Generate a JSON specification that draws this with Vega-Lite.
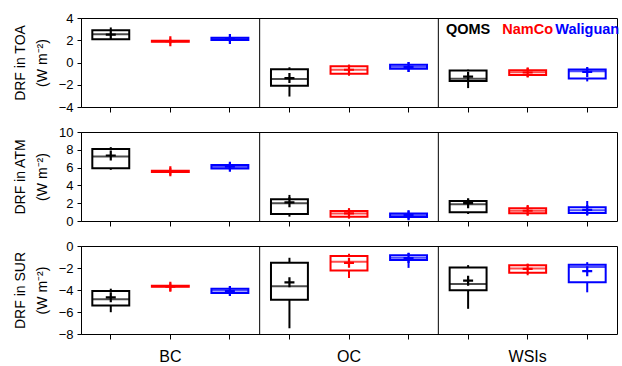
{
  "$schema": "https://vega.github.io/schema/vega-lite/v6.json",
  "padding": {"left": 12, "top": 11, "right": 0, "bottom": 0},
  "spacing": 10,
  "config": {
    "font": "Liberation Sans",
    "view": {"stroke": "black", "strokeWidth": 1},
    "axis": {"grid": false, "domainColor": "black", "tickColor": "black", "labelColor": "black", "titleColor": "black", "labelFont": "Liberation Sans", "titleFont": "Liberation Sans"},
    "axisY": {"tickSize": 4, "labelFontSize": 13, "titleFontSize": 14, "titleFontWeight": "normal", "titleLineHeight": 22, "labelPadding": 4, "titlePadding": 9, "labelOverlap": false},
    "axisX": {"tickSize": 5, "labelFontSize": 16, "labelPadding": 9}
  },
  "datasets": {
    "box": [
      {"panel": "TOA", "cat": "BC-QOMS", "site": "QOMS", "min": 2.1, "q1": 2.1, "median": 2.55, "q3": 2.9, "max": 3.15, "mean": 2.5},
      {"panel": "TOA", "cat": "BC-NamCo", "site": "NamCo", "min": 1.7, "q1": 1.87, "median": 1.92, "q3": 1.96, "max": 2.15, "mean": 1.92},
      {"panel": "TOA", "cat": "BC-Waliguan", "site": "Waliguan", "min": 1.85, "q1": 2.03, "median": 2.12, "q3": 2.22, "max": 2.4, "mean": 2.12},
      {"panel": "TOA", "cat": "OC-QOMS", "site": "QOMS", "min": -3.06, "q1": -2.09, "median": -1.48, "q3": -0.6, "max": -0.43, "mean": -1.4},
      {"panel": "TOA", "cat": "OC-NamCo", "site": "NamCo", "min": -1.18, "q1": -1.0, "median": -0.66, "q3": -0.33, "max": -0.2, "mean": -0.65},
      {"panel": "TOA", "cat": "OC-Waliguan", "site": "Waliguan", "min": -0.85, "q1": -0.57, "median": -0.39, "q3": -0.21, "max": 0.03, "mean": -0.4},
      {"panel": "TOA", "cat": "WSIs-QOMS", "site": "QOMS", "min": -2.3, "q1": -1.67, "median": -1.45, "q3": -0.73, "max": -0.64, "mean": -1.27},
      {"panel": "TOA", "cat": "WSIs-NamCo", "site": "NamCo", "min": -1.3, "q1": -1.12, "median": -0.88, "q3": -0.7, "max": -0.48, "mean": -0.9},
      {"panel": "TOA", "cat": "WSIs-Waliguan", "site": "Waliguan", "min": -1.7, "q1": -1.43, "median": -0.79, "q3": -0.64, "max": -0.48, "mean": -0.85},
      {"panel": "ATM", "cat": "BC-QOMS", "site": "QOMS", "min": 5.75, "q1": 5.94, "median": 7.25, "q3": 8.1, "max": 8.3, "mean": 7.36},
      {"panel": "ATM", "cat": "BC-NamCo", "site": "NamCo", "min": 5.2, "q1": 5.5, "median": 5.58, "q3": 5.64, "max": 5.95, "mean": 5.6},
      {"panel": "ATM", "cat": "BC-Waliguan", "site": "Waliguan", "min": 5.7, "q1": 5.9, "median": 6.1, "q3": 6.3, "max": 6.5, "mean": 6.1},
      {"panel": "ATM", "cat": "OC-QOMS", "site": "QOMS", "min": 0.49, "q1": 0.79, "median": 2.0, "q3": 2.44, "max": 2.93, "mean": 2.1},
      {"panel": "ATM", "cat": "OC-NamCo", "site": "NamCo", "min": 0.3, "q1": 0.49, "median": 0.83, "q3": 1.13, "max": 1.43, "mean": 0.85},
      {"panel": "ATM", "cat": "OC-Waliguan", "site": "Waliguan", "min": 0.19, "q1": 0.45, "median": 0.65, "q3": 0.83, "max": 1.16, "mean": 0.65},
      {"panel": "ATM", "cat": "WSIs-QOMS", "site": "QOMS", "min": 0.79, "q1": 0.98, "median": 1.88, "q3": 2.25, "max": 2.44, "mean": 2.0},
      {"panel": "ATM", "cat": "WSIs-NamCo", "site": "NamCo", "min": 0.68, "q1": 0.87, "median": 1.15, "q3": 1.43, "max": 1.8, "mean": 1.15},
      {"panel": "ATM", "cat": "WSIs-Waliguan", "site": "Waliguan", "min": 0.6, "q1": 0.9, "median": 1.2, "q3": 1.54, "max": 2.25, "mean": 1.25},
      {"panel": "SUR", "cat": "BC-QOMS", "site": "QOMS", "min": -6.02, "q1": -5.41, "median": -4.83, "q3": -4.09, "max": -3.88, "mean": -4.67},
      {"panel": "SUR", "cat": "BC-NamCo", "site": "NamCo", "min": -4.1, "q1": -3.71, "median": -3.66, "q3": -3.62, "max": -3.4, "mean": -3.7},
      {"panel": "SUR", "cat": "BC-Waliguan", "site": "Waliguan", "min": -4.49, "q1": -4.28, "median": -4.05, "q3": -3.88, "max": -3.66, "mean": -4.1},
      {"panel": "SUR", "cat": "OC-QOMS", "site": "QOMS", "min": -7.48, "q1": -4.89, "median": -3.66, "q3": -1.53, "max": -1.07, "mean": -3.3},
      {"panel": "SUR", "cat": "OC-NamCo", "site": "NamCo", "min": -2.9, "q1": -2.23, "median": -1.44, "q3": -0.92, "max": -0.7, "mean": -1.53},
      {"panel": "SUR", "cat": "OC-Waliguan", "site": "Waliguan", "min": -1.99, "q1": -1.28, "median": -1.07, "q3": -0.83, "max": -0.61, "mean": -1.1},
      {"panel": "SUR", "cat": "WSIs-QOMS", "site": "QOMS", "min": -5.71, "q1": -4.03, "median": -3.45, "q3": -1.96, "max": -1.74, "mean": -3.15},
      {"panel": "SUR", "cat": "WSIs-NamCo", "site": "NamCo", "min": -2.66, "q1": -2.44, "median": -2.05, "q3": -1.74, "max": -1.6, "mean": -2.08},
      {"panel": "SUR", "cat": "WSIs-Waliguan", "site": "Waliguan", "min": -4.21, "q1": -3.3, "median": -1.9, "q3": -1.71, "max": -1.47, "mean": -2.29}
    ],
    "div": [{"cat": "OC-QOMS"}, {"cat": "WSIs-QOMS"}],
    "leg": [
      {"cat": "WSIs-QOMS", "site": "QOMS", "label": "QOMS", "y": 2.9},
      {"cat": "WSIs-NamCo", "site": "NamCo", "label": "NamCo", "y": 2.9},
      {"cat": "WSIs-Waliguan", "site": "Waliguan", "label": "Waliguan", "y": 2.9}
    ]
  },
  "vconcat": [
    {
      "width": 536, "height": 89,
      "layer": [
        {"data": {"name": "div"}, "mark": {"type": "rule", "color": "black", "strokeWidth": 1},
         "encoding": {"x": {"field": "cat", "type": "nominal", "bandPosition": 0, "scale": {"domain": ["BC-QOMS","BC-NamCo","BC-Waliguan","OC-QOMS","OC-NamCo","OC-Waliguan","WSIs-QOMS","WSIs-NamCo","WSIs-Waliguan"], "paddingInner": 0, "paddingOuter": 0}, "axis": {"title": null, "labels": false, "domain": false}}}},
        {"data": {"name": "box"}, "transform": [{"filter": "datum.panel=='TOA'"}], "mark": {"type": "rule", "strokeWidth": 2},
         "encoding": {"x": {"field": "cat", "type": "nominal"}, "y": {"field": "min", "type": "quantitative", "scale": {"domain": [-4, 4], "nice": false, "zero": false}, "axis": {"values": [-4,-2,0,2,4], "tickCount": 5, "labelOverlap": false, "title": ["DRF in TOA", "(W m⁻²)"]}}, "y2": {"field": "max"},
          "color": {"field": "site", "type": "nominal", "scale": {"domain": ["QOMS","NamCo","Waliguan"], "range": ["black","red","blue"]}, "legend": null}}},
        {"data": {"name": "box"}, "transform": [{"filter": "datum.panel=='TOA'"}], "mark": {"type": "bar", "fill": "white", "strokeWidth": 2, "width": {"band": 0.62}},
         "encoding": {"x": {"field": "cat", "type": "nominal"}, "y": {"field": "q1", "type": "quantitative", "axis": {"values": [-4,-2,0,2,4], "tickCount": 5, "labelOverlap": false, "title": ["DRF in TOA", "(W m⁻²)"]}}, "y2": {"field": "q3"},
          "stroke": {"field": "site", "type": "nominal", "scale": {"domain": ["QOMS","NamCo","Waliguan"], "range": ["black","red","blue"]}, "legend": null}}},
        {"data": {"name": "box"}, "transform": [{"filter": "datum.panel=='TOA'"}], "mark": {"type": "tick", "thickness": 2, "size": 37},
         "encoding": {"x": {"field": "cat", "type": "nominal"}, "y": {"field": "median", "type": "quantitative", "axis": {"values": [-4,-2,0,2,4], "tickCount": 5, "labelOverlap": false, "title": ["DRF in TOA", "(W m⁻²)"]}}, "color": {"field": "site", "type": "nominal", "legend": null}}},
        {"data": {"name": "box"}, "transform": [{"filter": "datum.panel=='TOA'"}], "mark": {"type": "point", "shape": "M-1,0H1M0,-1V1", "filled": false, "strokeWidth": 2.2, "size": 100, "opacity": 1},
         "encoding": {"x": {"field": "cat", "type": "nominal"}, "y": {"field": "mean", "type": "quantitative", "axis": {"values": [-4,-2,0,2,4], "tickCount": 5, "labelOverlap": false, "title": ["DRF in TOA", "(W m⁻²)"]}}, "color": {"field": "site", "type": "nominal", "legend": null}}},
        {"data": {"name": "leg"}, "mark": {"type": "text", "fontWeight": "bold", "fontSize": 14.5, "align": "center", "baseline": "middle"},
         "encoding": {"x": {"field": "cat", "type": "nominal"}, "y": {"field": "y", "type": "quantitative", "axis": {"values": [-4,-2,0,2,4], "tickCount": 5, "labelOverlap": false, "title": ["DRF in TOA", "(W m⁻²)"]}}, "text": {"field": "label"}, "color": {"field": "site", "type": "nominal", "legend": null}}}
      ]
    },
    {
      "width": 536, "height": 89,
      "layer": [
        {"data": {"name": "div"}, "mark": {"type": "rule", "color": "black", "strokeWidth": 1},
         "encoding": {"x": {"field": "cat", "type": "nominal", "bandPosition": 0, "scale": {"domain": ["BC-QOMS","BC-NamCo","BC-Waliguan","OC-QOMS","OC-NamCo","OC-Waliguan","WSIs-QOMS","WSIs-NamCo","WSIs-Waliguan"], "paddingInner": 0, "paddingOuter": 0}, "axis": {"title": null, "labels": false, "domain": false}}}},
        {"data": {"name": "box"}, "transform": [{"filter": "datum.panel=='ATM'"}], "mark": {"type": "rule", "strokeWidth": 2},
         "encoding": {"x": {"field": "cat", "type": "nominal"}, "y": {"field": "min", "type": "quantitative", "scale": {"domain": [0, 10], "nice": false, "zero": false}, "axis": {"values": [0,2,4,6,8,10], "tickCount": 6, "labelOverlap": false, "title": ["DRF in ATM", "(W m⁻²)"]}}, "y2": {"field": "max"},
          "color": {"field": "site", "type": "nominal", "scale": {"domain": ["QOMS","NamCo","Waliguan"], "range": ["black","red","blue"]}, "legend": null}}},
        {"data": {"name": "box"}, "transform": [{"filter": "datum.panel=='ATM'"}], "mark": {"type": "bar", "fill": "white", "strokeWidth": 2, "width": {"band": 0.62}},
         "encoding": {"x": {"field": "cat", "type": "nominal"}, "y": {"field": "q1", "type": "quantitative", "axis": {"values": [0,2,4,6,8,10], "tickCount": 6, "labelOverlap": false, "title": ["DRF in ATM", "(W m⁻²)"]}}, "y2": {"field": "q3"},
          "stroke": {"field": "site", "type": "nominal", "scale": {"domain": ["QOMS","NamCo","Waliguan"], "range": ["black","red","blue"]}, "legend": null}}},
        {"data": {"name": "box"}, "transform": [{"filter": "datum.panel=='ATM'"}], "mark": {"type": "tick", "thickness": 2, "size": 37},
         "encoding": {"x": {"field": "cat", "type": "nominal"}, "y": {"field": "median", "type": "quantitative", "axis": {"values": [0,2,4,6,8,10], "tickCount": 6, "labelOverlap": false, "title": ["DRF in ATM", "(W m⁻²)"]}}, "color": {"field": "site", "type": "nominal", "legend": null}}},
        {"data": {"name": "box"}, "transform": [{"filter": "datum.panel=='ATM'"}], "mark": {"type": "point", "shape": "M-1,0H1M0,-1V1", "filled": false, "strokeWidth": 2.2, "size": 100, "opacity": 1},
         "encoding": {"x": {"field": "cat", "type": "nominal"}, "y": {"field": "mean", "type": "quantitative", "axis": {"values": [0,2,4,6,8,10], "tickCount": 6, "labelOverlap": false, "title": ["DRF in ATM", "(W m⁻²)"]}}, "color": {"field": "site", "type": "nominal", "legend": null}}}
      ]
    },
    {
      "width": 536, "height": 88,
      "layer": [
        {"data": {"name": "div"}, "mark": {"type": "rule", "color": "black", "strokeWidth": 1},
         "encoding": {"x": {"field": "cat", "type": "nominal", "bandPosition": 0, "scale": {"domain": ["BC-QOMS","BC-NamCo","BC-Waliguan","OC-QOMS","OC-NamCo","OC-Waliguan","WSIs-QOMS","WSIs-NamCo","WSIs-Waliguan"], "paddingInner": 0, "paddingOuter": 0}, "axis": {"title": null, "domain": false, "labelAngle": 0, "labelExpr": "datum.value=='BC-NamCo'?'BC':datum.value=='OC-NamCo'?'OC':datum.value=='WSIs-NamCo'?'WSIs':''"}}}},
        {"data": {"name": "box"}, "transform": [{"filter": "datum.panel=='SUR'"}], "mark": {"type": "rule", "strokeWidth": 2},
         "encoding": {"x": {"field": "cat", "type": "nominal"}, "y": {"field": "min", "type": "quantitative", "scale": {"domain": [-8, 0], "nice": false, "zero": false}, "axis": {"values": [-8,-6,-4,-2,0], "tickCount": 5, "labelOverlap": false, "title": ["DRF in SUR", "(W m⁻²)"]}}, "y2": {"field": "max"},
          "color": {"field": "site", "type": "nominal", "scale": {"domain": ["QOMS","NamCo","Waliguan"], "range": ["black","red","blue"]}, "legend": null}}},
        {"data": {"name": "box"}, "transform": [{"filter": "datum.panel=='SUR'"}], "mark": {"type": "bar", "fill": "white", "strokeWidth": 2, "width": {"band": 0.62}},
         "encoding": {"x": {"field": "cat", "type": "nominal"}, "y": {"field": "q1", "type": "quantitative", "axis": {"values": [-8,-6,-4,-2,0], "tickCount": 5, "labelOverlap": false, "title": ["DRF in SUR", "(W m⁻²)"]}}, "y2": {"field": "q3"},
          "stroke": {"field": "site", "type": "nominal", "scale": {"domain": ["QOMS","NamCo","Waliguan"], "range": ["black","red","blue"]}, "legend": null}}},
        {"data": {"name": "box"}, "transform": [{"filter": "datum.panel=='SUR'"}], "mark": {"type": "tick", "thickness": 2, "size": 37},
         "encoding": {"x": {"field": "cat", "type": "nominal"}, "y": {"field": "median", "type": "quantitative", "axis": {"values": [-8,-6,-4,-2,0], "tickCount": 5, "labelOverlap": false, "title": ["DRF in SUR", "(W m⁻²)"]}}, "color": {"field": "site", "type": "nominal", "legend": null}}},
        {"data": {"name": "box"}, "transform": [{"filter": "datum.panel=='SUR'"}], "mark": {"type": "point", "shape": "M-1,0H1M0,-1V1", "filled": false, "strokeWidth": 2.2, "size": 100, "opacity": 1},
         "encoding": {"x": {"field": "cat", "type": "nominal"}, "y": {"field": "mean", "type": "quantitative", "axis": {"values": [-8,-6,-4,-2,0], "tickCount": 5, "labelOverlap": false, "title": ["DRF in SUR", "(W m⁻²)"]}}, "color": {"field": "site", "type": "nominal", "legend": null}}}
      ]
    }
  ]
}
